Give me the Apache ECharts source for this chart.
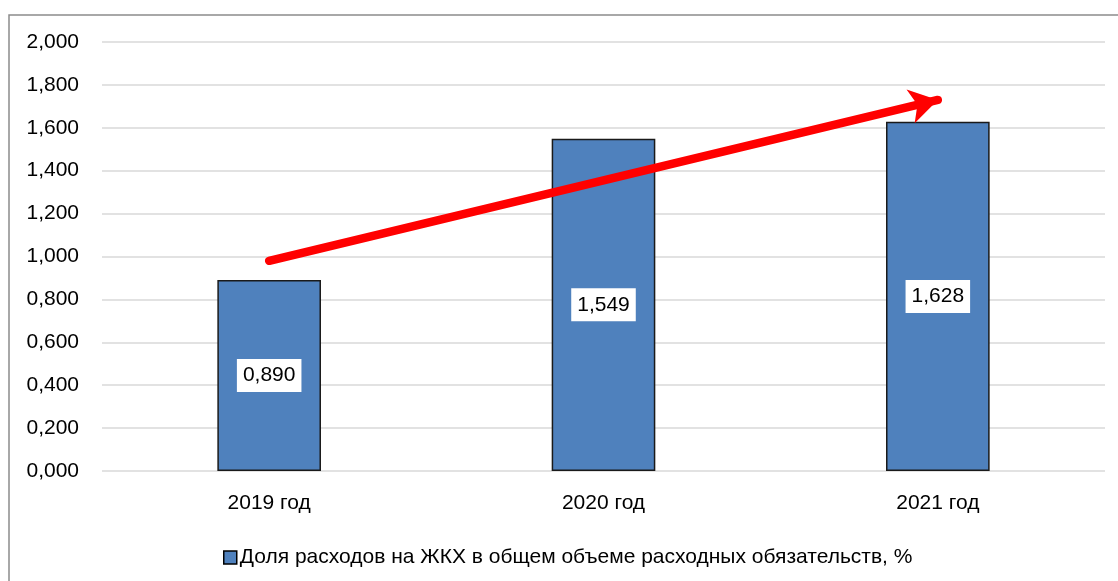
<!DOCTYPE html>
<html><head><meta charset="utf-8">
<script src="https://cdn.jsdelivr.net/npm/echarts@6/dist/echarts.min.js"></script>
<style>html,body{margin:0;padding:0;background:#fff;}#c{width:1118px;height:581px;}</style>
</head><body><div id="c"></div>
<script>
const categories = ['2019 год', '2020 год', '2021 год'];
const values = [0.890, 1.549, 1.628];
const seriesName = 'Доля расходов на ЖКХ в общем объеме расходных обязательств, %';
const arrowStart = ['2019 год', 0.98];
const arrowEnd = ['2021 год', 1.73];
const yMin = 0, yMax = 2, yStep = 0.2;

const fmt = v => v.toFixed(3).replace('.', ',');
const FONT = '"Liberation Sans", Arial, sans-serif';
const FS = 21;

const chart = echarts.init(document.getElementById('c'), null, {renderer: 'canvas'});
chart.setOption({
  animation: false,
  textStyle: {fontFamily: FONT},
  graphic: [{
    type: 'rect', silent: true, z: -1,
    shape: {x: 9, y: 15, width: 1300, height: 800},
    style: {fill: 'none', stroke: '#8c8c8c', lineWidth: 1.5}
  }],
  grid: {left: 102, right: 13, top: 42, bottom: 110},
  legend: {
    top: 542, left: 218,
    icon: 'rect', itemWidth: 13, itemHeight: 13, itemGap: 6,
    textStyle: {fontSize: FS, color: '#000', fontFamily: FONT, padding: [0, 0, 0, -2]},
    data: [{name: seriesName, itemStyle: {color: '#4F81BD', borderColor: '#000', borderWidth: 1.5}}]
  },
  xAxis: {
    type: 'category', data: categories,
    axisLine: {show: false}, axisTick: {show: false},
    axisLabel: {fontSize: FS, color: '#000', margin: 22, fontFamily: FONT}
  },
  yAxis: {
    type: 'value', min: yMin, max: yMax, interval: yStep,
    axisLabel: {fontSize: FS, color: '#000', margin: 23, formatter: fmt, fontFamily: FONT},
    splitLine: {lineStyle: {color: '#d9d9d9', width: 1.5}},
    axisLine: {show: false}, axisTick: {show: false}
  },
  series: [{
    name: seriesName, type: 'bar', data: values, barWidth: '31%',
    itemStyle: {color: '#4F81BD', borderColor: '#1a1a1a', borderWidth: 1.5},
    label: {
      show: true, position: 'inside', formatter: p => fmt(p.value),
      fontSize: FS, color: '#000', backgroundColor: '#fff',
      padding: [6, 6, 6, 6], fontFamily: FONT
    },
    markLine: {
      silent: true, symbol: ['none', 'arrow'], symbolSize: [26, 28],
      lineStyle: {color: '#ff0000', width: 8.5, type: 'solid', cap: 'round'},
      label: {show: false},
      data: [[{coord: arrowStart}, {coord: arrowEnd}]]
    }
  }]
});
</script></body></html>
